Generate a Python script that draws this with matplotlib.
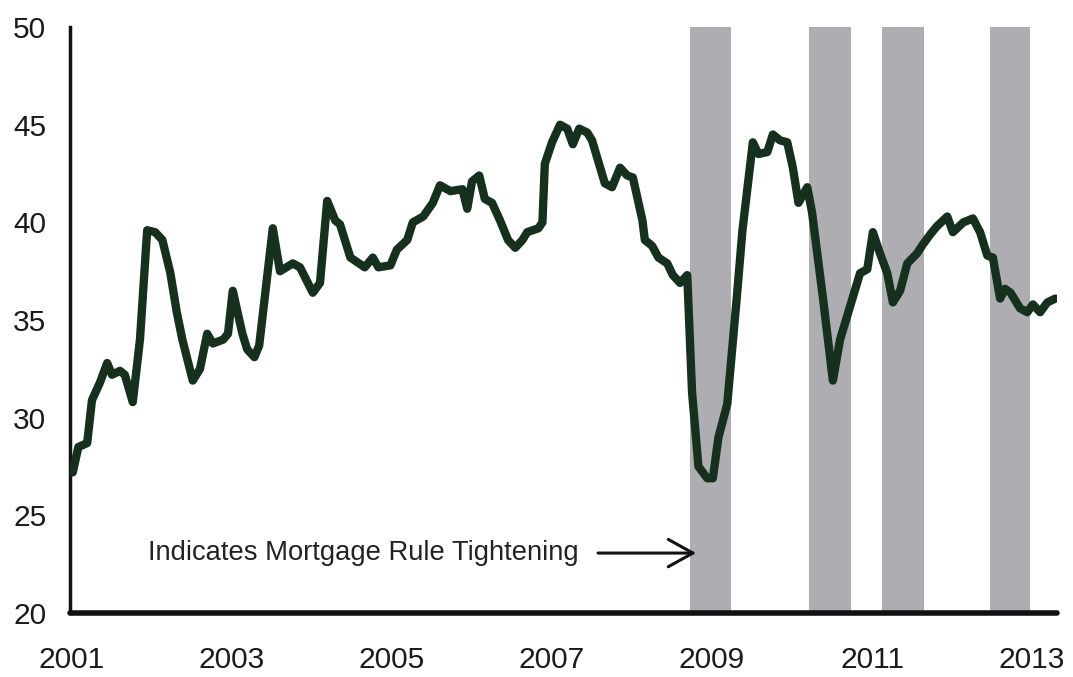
import numpy as np
import matplotlib.pyplot as plt

plt.rcParams['font.family'] = ['Liberation Sans', 'DejaVu Sans']

# share value (decimal year, value)
years = [2001.01, 2001.08, 2001.19, 2001.25, 2001.35, 2001.44, 2001.50, 2001.60, 2001.66, 2001.76,
         2001.85, 2001.94, 2002.04, 2002.13, 2002.23, 2002.31, 2002.38, 2002.51, 2002.60, 2002.69,
         2002.76, 2002.89, 2002.95, 2003.01, 2003.13, 2003.19, 2003.28, 2003.34, 2003.51, 2003.60,
         2003.76, 2003.85, 2004.01, 2004.10, 2004.19, 2004.29, 2004.35, 2004.48, 2004.66, 2004.76,
         2004.83, 2004.98, 2005.06, 2005.19, 2005.26, 2005.39, 2005.51, 2005.60, 2005.73, 2005.88,
         2005.94, 2006.00, 2006.09, 2006.16, 2006.25, 2006.35, 2006.45, 2006.54, 2006.63, 2006.69,
         2006.83, 2006.88, 2006.91, 2007.00, 2007.10, 2007.19, 2007.26, 2007.34, 2007.44, 2007.50,
         2007.58, 2007.66, 2007.75, 2007.85, 2007.94, 2008.01, 2008.13, 2008.16, 2008.25, 2008.33,
         2008.44, 2008.51, 2008.60, 2008.69, 2008.75, 2008.83, 2008.94, 2009.01, 2009.08, 2009.19,
         2009.31, 2009.38, 2009.51, 2009.58, 2009.69, 2009.76, 2009.85, 2009.94, 2010.01, 2010.08,
         2010.19, 2010.25, 2010.39, 2010.51, 2010.60, 2010.85, 2010.94, 2011.01, 2011.10, 2011.19,
         2011.26, 2011.35, 2011.44, 2011.56, 2011.64, 2011.73, 2011.81, 2011.94, 2012.01, 2012.14,
         2012.26, 2012.35, 2012.44, 2012.51, 2012.60, 2012.66, 2012.73, 2012.85, 2012.94, 2013.01,
         2013.10, 2013.19, 2013.29]
values = [27.2, 28.5, 28.7, 30.9, 31.8, 32.8, 32.2, 32.4, 32.2, 30.8,
          34.0, 39.6, 39.5, 39.1, 37.4, 35.4, 34.0, 31.9, 32.5, 34.3,
          33.8, 34.0, 34.3, 36.5, 34.3, 33.5, 33.1, 33.7, 39.7, 37.5,
          37.9, 37.7, 36.4, 36.9, 41.1, 40.1, 39.9, 38.2, 37.7, 38.2,
          37.7, 37.8, 38.6, 39.1, 40.0, 40.3, 41.0, 41.9, 41.6, 41.7,
          40.7, 42.1, 42.4, 41.2, 41.0, 40.1, 39.1, 38.7, 39.1, 39.5,
          39.7, 40.0, 43.0, 44.1, 45.0, 44.8, 44.0, 44.8, 44.6, 44.2,
          43.1, 42.0, 41.8, 42.8, 42.4, 42.3, 40.1, 39.1, 38.8, 38.2,
          37.9, 37.3, 36.9, 37.3, 31.3, 27.5, 26.9, 26.9, 29.0, 30.7,
          36.2, 39.6, 44.1, 43.5, 43.6, 44.5, 44.2, 44.1, 42.8, 41.0,
          41.8, 40.5, 36.0, 31.9, 34.0, 37.4, 37.6, 39.5, 38.4, 37.4,
          35.9, 36.5, 37.9, 38.4, 38.9, 39.4, 39.8, 40.3, 39.5, 40.0,
          40.2, 39.5, 38.3, 38.2, 36.1, 36.6, 36.4, 35.6, 35.4, 35.8,
          35.4, 35.9, 36.1]

# mortgage rule tightening periods
band_start = [2008.72, 2010.21, 2011.125, 2012.475]
band_end = [2009.24, 2010.74, 2011.65, 2012.975]

xtick_years = [2001, 2003, 2005, 2007, 2009, 2011, 2013]
ytick_vals = [20, 25, 30, 35, 40, 45, 50]

fig = plt.figure(figsize=(10.73, 6.77), dpi=100)
ax = fig.add_axes([0.0652, 0.0945, 0.9198, 0.8655])

for s, e in zip(band_start, band_end):
    ax.axvspan(s, e, color='#aeadb2', lw=0, zorder=1)

ax.plot(years, values, color='#16301e', lw=6, solid_joinstyle='round',
        solid_capstyle='round', zorder=3)

ax.set_xlim(2000.975, 2013.31)
ax.set_ylim(20, 50)
ax.set_xticks(xtick_years)
ax.set_xticklabels([str(y) for y in xtick_years])
ax.set_yticks(ytick_vals)
ax.tick_params(axis='both', length=0, labelsize=21.5, colors='#1a1a1a')
ax.tick_params(axis='x', pad=24)
ax.tick_params(axis='y', pad=17)

for side in ['top', 'right']:
    ax.spines[side].set_visible(False)
ax.spines['left'].set_linewidth(2.5)
ax.spines['bottom'].set_linewidth(4)
ax.spines['left'].set_color('#111111')
ax.spines['bottom'].set_color('#111111')
ax.spines['bottom'].set_capstyle('round')

ax.annotate('Indicates Mortgage Rule Tightening', xy=(2008.8, 23.07), xytext=(2001.95, 23.07),
            fontsize=19.7, color='#222222', va='center', ha='left',
            arrowprops=dict(arrowstyle='->,head_length=0.9,head_width=0.5', color='#111111',
                            lw=2.2, shrinkA=12, shrinkB=0))

fig.savefig('out.png', dpi=100)
